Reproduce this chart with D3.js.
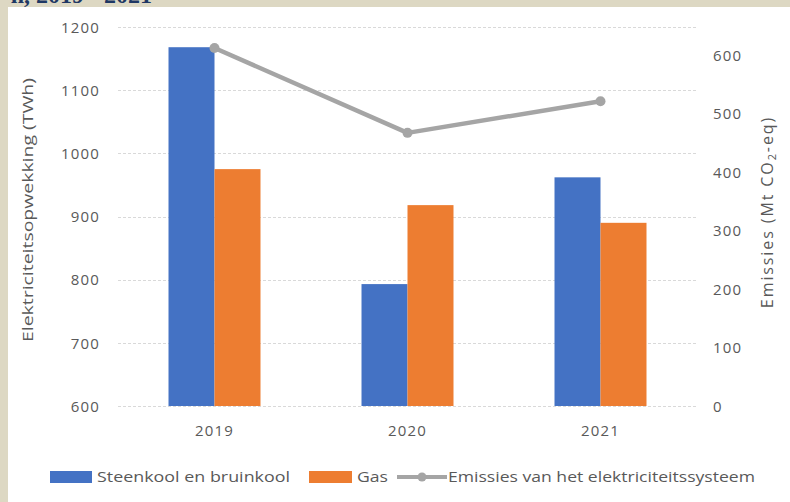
<!DOCTYPE html>
<html>
<head>
<meta charset="utf-8">
<script src="https://cdn.jsdelivr.net/npm/d3@7"></script>
<style>
html,body{margin:0;padding:0;background:#ddd8c3;}
svg{display:block;}
</style>
</head>
<body>
<svg id="chart" width="790" height="502"></svg>
<script>
const years = ["2019", "2020", "2021"];
const steenkool = [1168, 793, 962];
const gas = [975, 918, 890];
const emissies = [612, 467, 521];
const leftTicks = [600, 700, 800, 900, 1000, 1100, 1200];
const rightTicks = [0, 100, 200, 300, 400, 500, 600];
const seriesNames = ["Steenkool en bruinkool", "Gas", "Emissies van het elektriciteitssysteem"];
const colors = ["#4472c4", "#ed7d31", "#a5a5a5"];
const titleText = "n, 2019 - 2021";
const leftTitle = "Elektriciteitsopwekking (TWh)";

const svg = d3.select("#chart");
const font = "'Open Sans', 'Liberation Sans', sans-serif";
const textColor = "#595959";

// background panel
svg.append("rect").attr("x", 0).attr("y", 0).attr("width", 790).attr("height", 502).attr("fill", "#ddd8c3");
svg.append("rect").attr("x", 8).attr("y", 7).attr("width", 782).attr("height", 495).attr("fill", "#ffffff");

// cut-off title (the reference shows only its lower part)
svg.append("text").attr("x", 152).attr("y", 3).attr("text-anchor", "end")
  .attr("font-family", "'Liberation Serif', 'DejaVu Serif', serif").attr("font-weight", "bold")
  .attr("font-size", 24).attr("fill", "#1f3864").text(titleText);

const plot = {left: 118, right: 697, top: 27, bottom: 406};

const x0 = d3.scaleBand().domain(years).range([plot.left, plot.right]).padding(0);
const x1 = d3.scaleBand().domain(["a", "b"]).range([0, x0.bandwidth()]).paddingInner(0).paddingOuter(1.098);
const yL = d3.scaleLinear().domain([600, 1200]).range([plot.bottom, plot.top]);
const yR = d3.scaleLinear().domain([0, 648]).range([plot.bottom, plot.top]);

// gridlines
svg.append("g").selectAll("line").data(leftTicks).join("line")
  .attr("x1", plot.left).attr("x2", plot.right)
  .attr("y1", d => Math.round(yL(d)) + 0.5).attr("y2", d => Math.round(yL(d)) + 0.5)
  .attr("stroke", "#d9d9d9").attr("stroke-width", 1.2).attr("stroke-dasharray", "3,2");

const fmt = d3.format("d");

// left axis
const axL = svg.append("g").attr("transform", `translate(${plot.left - 18},0)`)
  .call(d3.axisLeft(yL).tickValues(leftTicks).tickFormat(fmt).tickSize(0).tickPadding(0));
axL.select(".domain").remove();
axL.selectAll("text").attr("font-family", font).attr("font-size", 15).attr("fill", textColor)
  .attr("letter-spacing", 1.2).attr("dy", "0.35em");

// right axis
const axR = svg.append("g").attr("transform", `translate(${plot.right + 16},0)`)
  .call(d3.axisRight(yR).tickValues(rightTicks).tickFormat(fmt).tickSize(0).tickPadding(0));
axR.select(".domain").remove();
axR.selectAll("text").attr("font-family", font).attr("font-size", 15).attr("fill", textColor)
  .attr("letter-spacing", 1.2).attr("dy", "0.35em");

// x axis labels
const axX = svg.append("g").attr("transform", `translate(0,${plot.bottom + 19})`)
  .call(d3.axisBottom(x0).tickSize(0).tickPadding(0));
axX.select(".domain").remove();
axX.selectAll("text").attr("font-family", font).attr("font-size", 15).attr("fill", textColor)
  .attr("letter-spacing", 1.2).attr("dy", "0.71em");

// bars
const groups = svg.append("g").selectAll("g").data(years).join("g")
  .attr("transform", d => `translate(${x0(d)},0)`);
groups.append("rect")
  .attr("x", x1("a")).attr("width", x1.bandwidth())
  .attr("y", (d, i) => yL(steenkool[i])).attr("height", (d, i) => plot.bottom - yL(steenkool[i]))
  .attr("fill", colors[0]);
groups.append("rect")
  .attr("x", x1("b")).attr("width", x1.bandwidth())
  .attr("y", (d, i) => yL(gas[i])).attr("height", (d, i) => plot.bottom - yL(gas[i]))
  .attr("fill", colors[1]);

// line
const line = d3.line().x((d, i) => x0(years[i]) + x0.bandwidth() / 2).y(d => yR(d));
svg.append("path").datum(emissies).attr("d", line)
  .attr("fill", "none").attr("stroke", colors[2]).attr("stroke-width", 4.5).attr("stroke-linejoin", "round");
svg.append("g").selectAll("circle").data(emissies).join("circle")
  .attr("cx", (d, i) => x0(years[i]) + x0.bandwidth() / 2).attr("cy", d => yR(d))
  .attr("r", 5).attr("fill", colors[2]);

// axis titles
svg.append("text").attr("transform", "translate(33,210) rotate(-90)").attr("text-anchor", "middle")
  .attr("font-family", font).attr("font-size", 15).attr("fill", textColor)
  .attr("textLength", 264).attr("lengthAdjust", "spacingAndGlyphs").text(leftTitle);

const rt = svg.append("text").attr("transform", "translate(773,212) rotate(-90)").attr("text-anchor", "middle")
  .attr("font-family", font).attr("font-size", 16).attr("letter-spacing", 1.9).attr("fill", textColor);
rt.append("tspan").text("Emissies (Mt CO");
rt.append("tspan").attr("font-size", 11).attr("dy", 3).text("2");
rt.append("tspan").attr("dy", -3).text("-eq)");

// legend
const lg = svg.append("g").attr("font-family", font).attr("font-size", 15).attr("fill", textColor);
const ly = 477;
lg.append("rect").attr("x", 50).attr("y", ly - 6).attr("width", 42).attr("height", 12).attr("fill", colors[0]);
lg.append("text").attr("x", 97).attr("y", ly).attr("dy", "0.35em").attr("textLength", 193)
  .attr("lengthAdjust", "spacingAndGlyphs").text(seriesNames[0]);
lg.append("rect").attr("x", 309).attr("y", ly - 6).attr("width", 43).attr("height", 12).attr("fill", colors[1]);
lg.append("text").attr("x", 357).attr("y", ly).attr("dy", "0.35em").attr("textLength", 31)
  .attr("lengthAdjust", "spacingAndGlyphs").text(seriesNames[1]);
lg.append("line").attr("x1", 397).attr("x2", 447).attr("y1", ly).attr("y2", ly)
  .attr("stroke", colors[2]).attr("stroke-width", 4);
lg.append("circle").attr("cx", 422).attr("cy", ly).attr("r", 4.5).attr("fill", colors[2]);
lg.append("text").attr("x", 448).attr("y", ly).attr("dy", "0.35em").attr("textLength", 307)
  .attr("lengthAdjust", "spacingAndGlyphs").text(seriesNames[2]);
</script>
</body>
</html>
